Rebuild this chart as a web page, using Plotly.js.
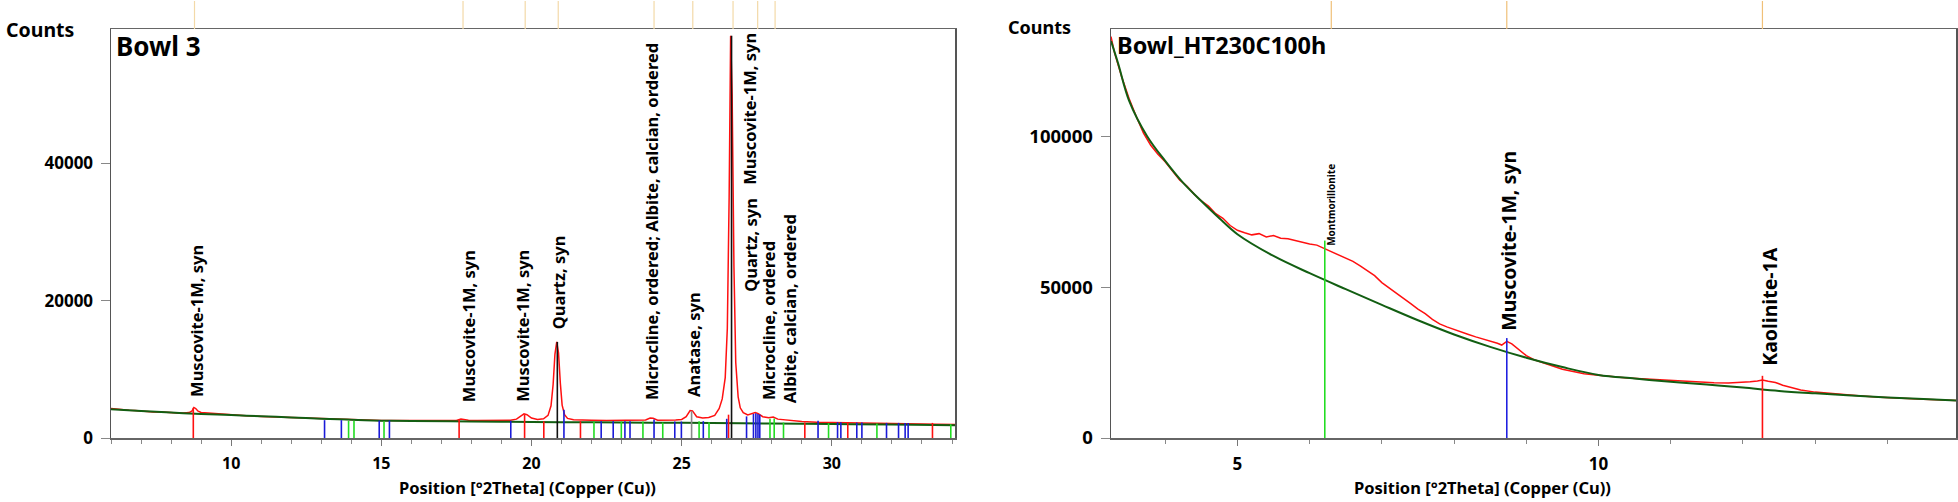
<!DOCTYPE html>
<html>
<head>
<meta charset="utf-8">
<script src="https://cdn.plot.ly/plotly-3.0.1.min.js"></script>
<style>
html,body{margin:0;padding:0;background:#fff;}
#chart{width:1958px;height:502px;}
</style>
</head>
<body>
<div id="chart"></div>
<script>
// ---------------- LEFT PANEL: Bowl 3 ----------------
const measXL = [6.0,6.2,6.4,6.6,6.8,7.0,7.2,7.4,7.6,7.8,8.0,8.2,8.4,8.6,8.7,8.76,8.82,8.9,9.0,9.2,9.4,9.6,9.8,10.0,10.5,11.0,11.5,12.0,12.5,13.0,13.5,14.0,14.5,15.0,15.5,16.0,16.5,17.0,17.5,17.65,17.75,17.9,18.2,18.6,19.0,19.3,19.5,19.65,19.75,19.85,20.0,20.2,20.4,20.55,20.65,20.72,20.78,20.84,20.9,20.96,21.02,21.1,21.2,21.4,21.6,22.0,22.5,23.0,23.5,23.8,23.95,24.05,24.2,24.5,24.8,25.0,25.15,25.28,25.36,25.5,25.7,25.9,26.1,26.25,26.35,26.45,26.52,26.58,26.63,26.68,26.74,26.8,26.88,26.95,27.05,27.2,27.35,27.45,27.55,27.7,27.9,28.05,28.2,28.5,29.0,29.5,30.0,30.5,31.0,31.5,32.0,32.5,33.0,33.5,34.1];
const measYL = [4300,4180,4150,4030,3990,3890,3880,3790,3820,3730,3720,3650,3640,3700,3950,4450,4300,3900,3720,3650,3600,3480,3420,3380,3260,3150,3070,3010,2920,2840,2780,2690,2640,2560,2550,2540,2560,2550,2560,2780,2700,2580,2560,2570,2560,2600,2750,3150,3520,3400,2900,2700,2800,3300,4700,7800,12200,14000,12400,8000,4800,3400,2850,2650,2600,2580,2560,2570,2590,2620,2920,2880,2600,2560,2620,2700,3100,4000,3950,3100,2900,3000,3300,4300,5700,8800,16000,35000,58600,50000,25000,11000,6000,4400,3700,3350,3550,3700,3550,3100,2950,3050,2750,2580,2400,2300,2250,2200,2180,2120,2100,2080,2050,2010,1980];
const bgXL = [6.0,7.0,8.0,9.0,10.0,11.0,12.0,13.0,14.0,15.0,16.0,18.0,20.0,22.0,24.0,26.0,28.0,30.0,32.0,34.1];
const bgYL = [4200,3930,3700,3500,3350,3170,3000,2820,2670,2530,2470,2400,2330,2290,2240,2180,2100,2030,1950,1860];

// reference sticks (left)
const muscoviteL_pos = [8.74,17.59,19.77,20.41,21.63,26.56,29.1,30.53,33.35];
const muscoviteL_h   = [4400,2700,3450,2450,2450,3400,2250,2250,2200];
const quartzL_pos = [20.86,26.66];
const quartzL_h   = [14000,58600];
const anataseL_pos = [25.33];
const anataseL_h   = [3900];
const microclineL_pos = [13.11,13.67,14.93,15.27,19.31,21.08,22.32,22.72,23.11,23.28,24.08,24.77,24.99,25.72,26.5,27.16,27.39,27.47,27.54,27.6,29.54,30.19,30.3,30.83,31.0,31.82,32.22,32.44,32.54];
const microclineL_h   = [2600,2600,2550,2550,2500,4100,2450,2450,2450,2450,2700,2400,2400,2450,2800,3150,3500,3600,3500,3400,2500,2300,2300,2250,2250,2200,2200,2200,2200];
const albiteL_pos = [13.91,14.09,15.09,22.08,22.99,23.71,24.37,25.58,25.91,27.94,28.08,28.39,29.89,31.5,33.96];
const albiteL_h   = [2500,2500,2450,2400,2400,2400,2250,2450,2300,2800,2850,2250,2150,2100,2000];

// phase labels (left): text, centre position [°2θ], bottom [counts]
const labelL_text = ["Muscovite-1M, syn","Muscovite-1M, syn","Muscovite-1M, syn","Quartz, syn","Microcline, ordered; Albite, calcian, ordered","Anatase, syn","Quartz, syn","Microcline, ordered","Albite, calcian, ordered"];
const labelL_x = [8.87,17.9,19.72,20.9,23.97,25.37,27.27,27.87,28.57];
const labelL_y = [5870,5140,5140,15630,5430,5870,21130,5430,4990];
// label hanging from the top
const topLabelL_text = "Muscovite-1M, syn";
const topLabelL_x = 27.27;

// peak marks above the frame (left)
const peakMarkL = [8.78,17.72,19.79,20.89,24.08,25.37,26.71,27.53,28.11];

// ---------------- RIGHT PANEL: Bowl_HT230C100h ----------------
const measXR = [3.25,3.3,3.4,3.5,3.6,3.7,3.8,3.9,4.0,4.1,4.2,4.3,4.4,4.5,4.6,4.7,4.8,4.9,5.0,5.1,5.2,5.3,5.4,5.5,5.6,5.7,5.8,5.9,6.0,6.1,6.2,6.3,6.4,6.5,6.6,6.7,6.8,6.9,7.0,7.1,7.2,7.3,7.4,7.5,7.6,7.7,7.8,7.9,8.0,8.1,8.2,8.3,8.4,8.5,8.6,8.66,8.73,8.8,8.9,9.0,9.1,9.2,9.3,9.4,9.5,9.6,9.7,9.8,10.0,10.2,10.4,10.6,10.8,11.0,11.2,11.4,11.6,11.8,12.0,12.1,12.2,12.27,12.35,12.45,12.55,12.65,12.8,13.0,13.3,13.6,13.9,14.2,14.5,14.95];
const measYR = [133000,127500,119500,112500,106500,101000,97000,94000,91500,88500,85500,83500,80800,78600,76800,74300,72800,70400,68800,68000,67300,67700,66600,67100,66200,66000,65400,64900,64300,63900,62800,61800,60800,59500,58500,57000,55500,53800,51500,49800,48000,46500,44500,42700,41200,39300,37800,36800,35900,35200,34300,33500,32800,32300,31400,30800,32000,31200,29400,27300,26000,25200,24300,23600,22800,22300,21800,21300,20800,20300,19900,19600,19300,19000,18700,18500,18300,18200,18300,18600,18900,19200,18800,18400,17500,16800,15900,15200,14500,14000,13500,13100,12800,12400];
const bgXR = [3.25,3.35,3.5,3.75,4.0,4.25,4.5,4.75,5.0,5.5,6.0,6.5,7.0,7.5,8.0,8.5,9.0,9.5,10.0,10.5,11.0,11.5,12.0,12.5,13.0,13.5,14.0,14.5,14.95];
const bgYR = [131500,124000,111800,100000,91800,84500,78500,72800,67500,60300,54600,49300,44100,39000,34300,30200,26600,23500,20900,19700,18600,17700,16700,15600,14800,14100,13400,12900,12400];

const montmorilloniteR_pos = [6.21];
const montmorilloniteR_h   = [65400];
const muscoviteR_pos = [8.73];
const muscoviteR_h   = [33100];
const kaoliniteR_pos = [12.27];
const kaoliniteR_h   = [20600];

const labelR_text = ["Montmorillonite","Muscovite-1M, syn","Kaolinite-1A"];
const labelR_x = [6.305,8.76,12.375];
const labelR_y = [63200,35200,23600];
const labelR_size = [10,19.5,19.5];

const peakMarkR = [6.30,8.73,12.27];

// ---------------- build ----------------
const FONT = "Noto Sans, sans-serif";
function sticks(pos, h, color, xa, ya) {
  const x = [], y = [];
  pos.forEach((p, i) => { x.push(p, p, null); y.push(0, h[i], null); });
  return {x, y, xaxis: xa, yaxis: ya, mode: 'lines', type: 'scatter',
          line: {color, width: 1.6}, hoverinfo: 'skip', showlegend: false};
}
const W = 1958, H = 502, T = 29, B = 64;
const PH = H - T - B;
const py = p => (H - B - p) / PH; // pixel y -> paper y

const traces = [
  {x: measXL, y: measYL, xaxis: 'x', yaxis: 'y', mode: 'lines', type: 'scatter', line: {color: '#ff1010', width: 1.5}, showlegend: false},
  {x: bgXL, y: bgYL, xaxis: 'x', yaxis: 'y', mode: 'lines', type: 'scatter', line: {color: '#125e12', width: 2, shape: 'spline'}, showlegend: false},
  sticks(muscoviteL_pos, muscoviteL_h, '#ff1010', 'x', 'y'),
  sticks(microclineL_pos, microclineL_h, '#1a1ad8', 'x', 'y'),
  sticks(albiteL_pos, albiteL_h, '#22dd22', 'x', 'y'),
  sticks(anataseL_pos, anataseL_h, '#8a8a8a', 'x', 'y'),
  sticks(quartzL_pos, quartzL_h, '#111111', 'x', 'y'),
  {x: measXR, y: measYR, xaxis: 'x2', yaxis: 'y2', mode: 'lines', type: 'scatter', line: {color: '#ff1010', width: 1.5}, showlegend: false},
  {x: bgXR, y: bgYR, xaxis: 'x2', yaxis: 'y2', mode: 'lines', type: 'scatter', line: {color: '#125e12', width: 2, shape: 'spline'}, showlegend: false},
  sticks(montmorilloniteR_pos, montmorilloniteR_h, '#22dd22', 'x2', 'y2'),
  sticks(muscoviteR_pos, muscoviteR_h, '#2020e0', 'x2', 'y2'),
  sticks(kaoliniteR_pos, kaoliniteR_h, '#ff1010', 'x2', 'y2')
];

const annotations = [];
labelL_text.forEach((t, i) => annotations.push({
  text: t, xref: 'x', yref: 'y', x: labelL_x[i], y: labelL_y[i], textangle: -90,
  xanchor: 'center', yanchor: 'bottom', showarrow: false, borderpad: 0,
  font: {family: FONT, size: 16.5, weight: 'bold', color: '#000'}
}));
annotations.push({
  text: topLabelL_text, xref: 'x', yref: 'paper', x: topLabelL_x, y: py(30), textangle: -90,
  xanchor: 'center', yanchor: 'top', showarrow: false, bgcolor: '#fff', borderpad: 2,
  font: {family: FONT, size: 16.5, weight: 'bold', color: '#000'}
});
labelR_text.forEach((t, i) => annotations.push({
  text: t, xref: 'x2', yref: 'y2', x: labelR_x[i], y: labelR_y[i], textangle: -90,
  xanchor: 'center', yanchor: 'bottom', showarrow: false, borderpad: 0,
  font: {family: FONT, size: labelR_size[i], weight: 'bold', color: '#000'}
}));
// panel texts
annotations.push(
  {text: 'Counts', xref: 'paper', yref: 'paper', x: 4 / W, y: py(29), xanchor: 'left', yanchor: 'middle', showarrow: false, font: {family: FONT, size: 19.5, weight: 'bold', color: '#000'}},
  {text: 'Bowl 3', xref: 'paper', yref: 'paper', x: 114 / W, y: py(46), xanchor: 'left', yanchor: 'middle', showarrow: false, font: {family: FONT, size: 26, weight: 'bold', color: '#000'}},
  {text: 'Position [°2Theta] (Copper (Cu))', xref: 'paper', yref: 'paper', x: 527 / W, y: py(487), xanchor: 'center', yanchor: 'middle', showarrow: false, font: {family: FONT, size: 16.5, weight: 'bold', color: '#000'}},
  {text: 'Counts', xref: 'paper', yref: 'paper', x: 1006 / W, y: py(27), xanchor: 'left', yanchor: 'middle', showarrow: false, font: {family: FONT, size: 18, weight: 'bold', color: '#000'}},
  {text: 'Bowl_HT230C100h', xref: 'paper', yref: 'paper', x: 1115 / W, y: py(45), xanchor: 'left', yanchor: 'middle', showarrow: false, font: {family: FONT, size: 23.5, weight: 'bold', color: '#000'}},
  {text: 'Position [°2Theta] (Copper (Cu))', xref: 'paper', yref: 'paper', x: 1482 / W, y: py(487), xanchor: 'center', yanchor: 'middle', showarrow: false, font: {family: FONT, size: 16.5, weight: 'bold', color: '#000'}}
);

const shapes = [];
peakMarkL.forEach(p => shapes.push({type: 'line', xref: 'x', yref: 'paper', x0: p, x1: p, y0: 1, y1: py(1), line: {color: '#f3d9a8', width: 1.2}}));
peakMarkR.forEach(p => shapes.push({type: 'line', xref: 'x2', yref: 'paper', x0: p, x1: p, y0: 1, y1: py(1), line: {color: '#f0c078', width: 1.2}}));

function xax(domain, range, anchor, fs) {
  return {domain, range, anchor, tickmode: 'linear', tick0: 0, dtick: 5,
    ticks: 'outside', ticklen: 6, tickwidth: 1, tickcolor: '#777', ticklabelstandoff: 4,
    tickfont: {family: FONT, size: fs, weight: 'bold', color: '#000'},
    minor: {dtick: 1, ticks: 'outside', ticklen: 4, tickcolor: '#888', showgrid: false},
    showgrid: false, zeroline: false, showline: true, mirror: true, linecolor: '#666', linewidth: 1.5, fixedrange: true};
}
function yax(range, anchor, dtick, fs) {
  return {domain: [0, 1], range, anchor, tickmode: 'linear', tick0: 0, dtick,
    tickformat: 'd', separatethousands: false,
    ticks: 'outside', ticklen: 9, tickwidth: 1, tickcolor: '#888', ticklabelstandoff: 4,
    tickfont: {family: FONT, size: fs, weight: 'bold', color: '#000'},
    showgrid: false, zeroline: false, showline: true, mirror: true, linecolor: '#555', linewidth: 1.5, fixedrange: true};
}

const layout = {
  width: W, height: H,
  margin: {l: 0, r: 0, t: T, b: B, pad: 0},
  paper_bgcolor: '#fff', plot_bgcolor: '#fff',
  showlegend: false,
  xaxis: xax([111 / W, 955 / W], [6.0, 34.1], 'y', 16),
  yaxis: yax([0, 59600], 'x', 20000, 17),
  xaxis2: xax([1111 / W, 1956 / W], [3.25, 14.95], 'y2', 17),
  yaxis2: yax([0, 135500], 'x2', 50000, 18.5),
  annotations, shapes
};

Plotly.newPlot('chart', traces, layout, {staticPlot: true, displayModeBar: false});
</script>
</body>
</html>
